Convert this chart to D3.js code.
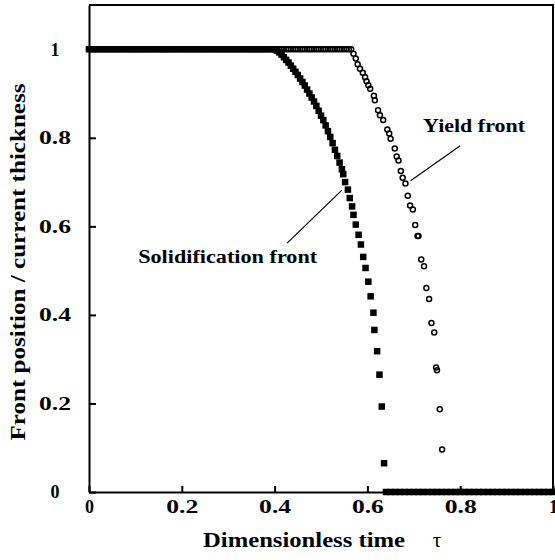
<!DOCTYPE html>
<html>
<head>
<meta charset="utf-8">
<script src="https://cdn.jsdelivr.net/npm/d3@7"></script>
<style>
  body { margin: 0; background: #fff; }
  svg text { font-family: "Liberation Serif", "Times New Roman", serif; font-weight: bold; fill: #000; }
</style>
</head>
<body>
<svg id="chart" width="555" height="560"></svg>
<script>
// tau, front position
const solidification = [
  [0.00,1],[0.01,1],[0.02,1],[0.03,1],[0.04,1],[0.05,1],[0.06,1],[0.07,1],[0.08,1],[0.09,1],
  [0.10,1],[0.11,1],[0.12,1],[0.13,1],[0.14,1],[0.15,1],[0.16,1],[0.17,1],[0.18,1],[0.19,1],
  [0.20,1],[0.21,1],[0.22,1],[0.23,1],[0.24,1],[0.25,1],[0.26,1],[0.27,1],[0.28,1],[0.29,1],
  [0.30,1],[0.31,1],[0.32,1],[0.33,1],[0.34,1],[0.35,1],[0.36,1],[0.37,1],[0.38,1],[0.39,1],
  [0.400,1.000],[0.405,0.997],[0.410,0.993],[0.415,0.988],[0.420,0.982],[0.425,0.976],
  [0.430,0.970],[0.435,0.963],[0.440,0.956],[0.445,0.949],[0.450,0.942],[0.455,0.934],
  [0.460,0.926],[0.465,0.918],[0.470,0.909],[0.475,0.900],[0.480,0.891],[0.485,0.882],
  [0.490,0.872],[0.495,0.861],[0.500,0.850],[0.505,0.840],[0.510,0.828],[0.515,0.815],
  [0.520,0.802],[0.525,0.788],[0.530,0.773],[0.535,0.759],[0.540,0.744],[0.545,0.729],
  [0.548,0.718],
  [0.552,0.700],[0.558,0.683],[0.562,0.664],[0.567,0.645],[0.570,0.626],[0.575,0.604],
  [0.581,0.581],[0.586,0.559],[0.591,0.531],[0.596,0.506],[0.602,0.475],[0.607,0.442],
  [0.613,0.405],[0.615,0.366],[0.621,0.318],[0.626,0.265],[0.631,0.193],[0.636,0.065],
  [0.64,0],[0.65,0],[0.66,0],[0.67,0],[0.68,0],[0.69,0],[0.70,0],[0.71,0],[0.72,0],[0.73,0],
  [0.74,0],[0.75,0],[0.76,0],[0.77,0],[0.78,0],[0.79,0],[0.80,0],[0.81,0],[0.82,0],[0.83,0],
  [0.84,0],[0.85,0],[0.86,0],[0.87,0],[0.88,0],[0.89,0],[0.90,0],[0.91,0],[0.92,0],[0.93,0],
  [0.94,0],[0.95,0],[0.96,0],[0.97,0],[0.98,0],[0.99,0],[1.00,0]
]

const yieldFront = [
  [0.00,1],[0.01,1],[0.02,1],[0.03,1],[0.04,1],[0.05,1],[0.06,1],[0.07,1],[0.08,1],[0.09,1],
  [0.10,1],[0.11,1],[0.12,1],[0.13,1],[0.14,1],[0.15,1],[0.16,1],[0.17,1],[0.18,1],[0.19,1],
  [0.20,1],[0.21,1],[0.22,1],[0.23,1],[0.24,1],[0.25,1],[0.26,1],[0.27,1],[0.28,1],[0.29,1],
  [0.30,1],[0.31,1],[0.32,1],[0.33,1],[0.34,1],[0.35,1],[0.36,1],[0.37,1],[0.38,1],[0.39,1],
  [0.400,1],[0.405,1],[0.410,1],[0.415,1],[0.420,1],[0.425,1],[0.430,1],[0.435,1],[0.440,1],
  [0.445,1],[0.450,1],[0.455,1],[0.460,1],[0.465,1],[0.470,1],[0.475,1],[0.480,1],[0.485,1],
  [0.490,1],[0.495,1],[0.500,1],[0.505,1],[0.510,1],[0.515,1],[0.520,1],[0.525,1],[0.530,1],
  [0.535,1],[0.540,1],[0.545,1],[0.550,1],[0.555,1],[0.560,1],[0.565,1],
  [0.570,0.990],[0.575,0.979],[0.579,0.966],[0.584,0.956],[0.590,0.947],[0.595,0.937],
  [0.598,0.928],[0.602,0.919],[0.606,0.911],[0.614,0.895],[0.616,0.885],[0.623,0.862],
  [0.627,0.851],[0.634,0.840],[0.643,0.819],[0.647,0.810],[0.650,0.798],[0.659,0.776],
  [0.663,0.758],[0.667,0.749],[0.672,0.725],[0.676,0.710],[0.682,0.697],[0.687,0.669],
  [0.692,0.647],[0.698,0.638],[0.703,0.603],[0.708,0.578],[0.710,0.578],[0.716,0.525],
  [0.722,0.510],[0.727,0.461],[0.733,0.436],[0.738,0.382],[0.744,0.360],[0.748,0.281],
  [0.750,0.275],[0.756,0.187],[0.761,0.096]
]

const xTicks = [0, 0.2, 0.4, 0.6, 0.8, 1]
const yTicks = [0, 0.2, 0.4, 0.6, 0.8, 1]

// label anchors in data units: [tau, pos]
const solidLabel = { text: "Solidification front", at: [0.106, 0.517], len: 179, line: [[0.427, 0.562], [0.545, 0.682]] }
const yieldLabel = { text: "Yield front", at: [0.720, 0.813], len: 102, line: [[0.693, 0.703], [0.800, 0.782]] }

const svg = d3.select("#chart")
const mLeft = 89, mRight = 553, mTop = 5, mBottom = 492

const x = d3.scaleLinear().domain([0, 1]).range([mLeft, mRight])
const y = d3.scaleLinear().domain([0, 1.1]).range([mBottom, mTop])

// the scanned lettering is wider than the font, so stretch to measured widths
function stretch(sel, len) {
  sel.attr("textLength", len).attr("lengthAdjust", "spacingAndGlyphs")
}

// frame (top and right)
svg.append("path")
  .attr("d", `M${x(0)},${y(1.1)}H${x(1)}V${y(0)}`)
  .attr("fill", "none").attr("stroke", "#000").attr("stroke-width", 2)

let xAxis = svg.append("g")
  .attr("transform", `translate(0,${mBottom})`)
  .call(d3.axisBottom(x).tickValues(xTicks).tickFormat(d => d).tickSize(-6).tickSizeOuter(0).tickPadding(8))
xAxis.selectAll("text").style("font-size", "18px")
  .filter(d => String(d).length > 1).call(stretch, 32)

let yAxis = svg.append("g")
  .attr("transform", `translate(${mLeft},0)`)
  .call(d3.axisLeft(y).tickValues(yTicks).tickFormat(d => d).tickSize(-7).tickSizeOuter(0))
yAxis.selectAll("text").style("font-size", "18px")
  .attr("text-anchor", "middle").attr("x", -34)
  .filter(d => String(d).length > 1).call(stretch, 32)

svg.selectAll(".domain, .tick line").attr("stroke", "#000").attr("stroke-width", 2)
svg.selectAll(".tick text").attr("fill", "#000")

// yield front: open circles
svg.append("g").selectAll("circle")
  .data(yieldFront)
  .enter()
  .append("circle")
  .attr("cx", d => x(d[0]))
  .attr("cy", d => y(d[1]))
  .attr("r", 2.5)
  .attr("fill", "none")
  .attr("stroke", "#000")
  .attr("stroke-width", 1.5)

// solidification front: filled squares
const sq = 6.5
svg.append("g").selectAll("rect")
  .data(solidification)
  .enter()
  .append("rect")
  .attr("x", d => x(d[0]) - sq / 2)
  .attr("y", d => y(d[1]) - sq / 2)
  .attr("width", sq)
  .attr("height", sq)
  .attr("fill", "#000")

// annotations
for (const lab of [solidLabel, yieldLabel]) {
  svg.append("line")
    .attr("x1", x(lab.line[0][0])).attr("y1", y(lab.line[0][1]))
    .attr("x2", x(lab.line[1][0])).attr("y2", y(lab.line[1][1]))
    .attr("stroke", "#000").attr("stroke-width", 1.2)
  svg.append("text")
    .attr("x", x(lab.at[0])).attr("y", y(lab.at[1]))
    .style("font-size", "18px")
    .text(lab.text)
    .call(stretch, lab.len)
}

// axis titles
svg.append("text")
  .attr("x", 203).attr("y", 547)
  .style("font-size", "21px")
  .text("Dimensionless time")
  .call(stretch, 202)
svg.append("text")
  .attr("x", 437).attr("y", 547)
  .attr("text-anchor", "middle")
  .style("font-size", "21px").style("font-weight", "normal")
  .text("τ")

svg.append("text")
  .attr("transform", "translate(25,262) rotate(-90)")
  .attr("text-anchor", "middle")
  .style("font-size", "21px")
  .text("Front position / current thickness")
  .call(stretch, 357)
</script>
</body>
</html>
